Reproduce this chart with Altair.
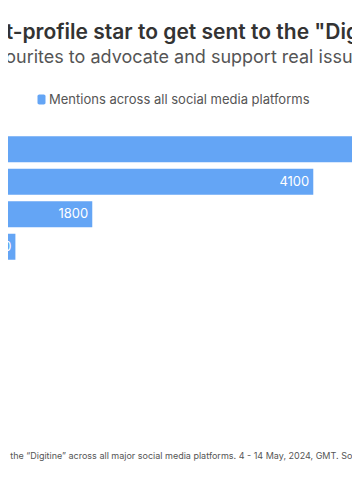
import altair as alt
import pandas as pd

# ---- data ----
stars = ["Taylor Swift", "Kim Kardashian", "Kylie Jenner", "Selena Gomez"]
mentions = [5600, 4100, 1800, 1000]
series_name = "Mentions across all social media platforms"

title_text = "Highest-profile star to get sent to the \"Digitine\""
subtitle_text = "Favourites to advocate and support real issues"
footer_text = ("Mentions related to the \u201cDigitine\u201d across all major social media platforms. "
               "4 - 14 May, 2024, GMT. Source: Brandwatch")

df = pd.DataFrame({"star": stars, "mentions": mentions, "series": series_name})

FONT = "Inter"
BLUE = "#64a5f5"

rounded = ("M-0.45,-1 H0.45 A0.35,0.35 0 0 1 0.8,-0.65 V0.65 A0.35,0.35 0 0 1 0.45,1 "
           "H-0.45 A0.35,0.35 0 0 1 -0.8,0.65 V-0.65 A0.35,0.35 0 0 1 -0.45,-1 Z")

x_enc = alt.X(
    "mentions:Q",
    scale=alt.Scale(domain=[923, 4503], zero=False, nice=False),
    axis=alt.Axis(
        labels=False, ticks=False, domain=False, grid=False,
        title=footer_text, titleFont=FONT, titleFontSize=9, titleFontWeight="normal",
        titleColor="#555555", titleX=168, titleY=195, titleAlign="center",
        titleBaseline="alphabetic",
    ),
)
y_enc = alt.Y("star:N", sort=stars, axis=None,
              scale=alt.Scale(paddingInner=0.2, paddingOuter=0.1))

bars = alt.Chart(df).mark_bar(clip=True, cornerRadius=0).encode(
    x=x_enc,
    y=y_enc,
    color=alt.Color(
        "series:N",
        scale=alt.Scale(range=[BLUE]),
        legend=alt.Legend(
            title=None, orient="none", legendX=27, legendY=-40, padding=0,
            symbolType=rounded, symbolSize=100, symbolStrokeWidth=0, symbolOpacity=1,
            labelFont=FONT, labelFontSize=13, labelColor="#555555", labelOffset=1,
            labelLimit=400,
        ),
    ),
)

labels = alt.Chart(df).mark_text(
    clip=True, align="right", baseline="middle", dx=-4, color="white",
    font=FONT, fontSize=13,
).encode(x=x_enc, y=y_enc, text=alt.Text("mentions:Q", format="d"))

chart = alt.layer(bars, labels).properties(
    width=344,
    height=130,
    title=alt.TitleParams(
        text=title_text,
        subtitle=subtitle_text,
        anchor="middle",
        dx=-6,
        font=FONT, fontSize=21, fontWeight=600, color="#333333",
        subtitleFont=FONT, subtitleFontSize=18, subtitleColor="#555555",
        subtitlePadding=6, offset=26.5,
    ),
    autosize=alt.AutoSizeParams(type="none"),
    padding={"left": 0, "top": 125, "right": 0, "bottom": 223},
).configure_view(stroke=None)

chart.save("out.html", embed_options={"renderer": "svg", "actions": False})
